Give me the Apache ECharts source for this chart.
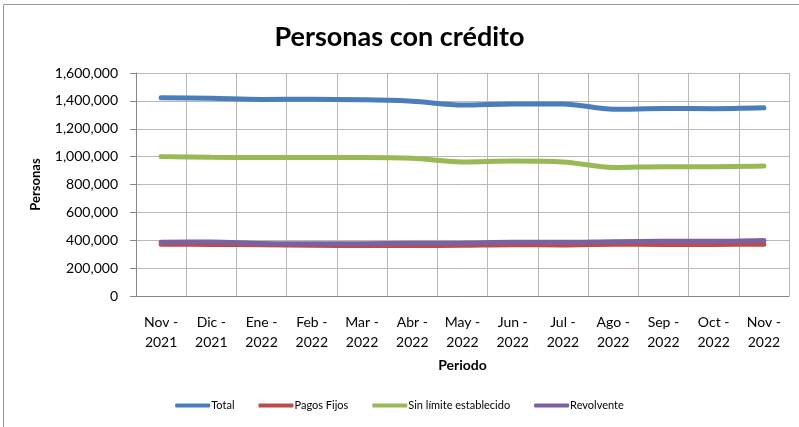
<!DOCTYPE html>
<html>
<head>
<meta charset="utf-8">
<script src="https://cdn.jsdelivr.net/npm/echarts@6/dist/echarts.min.js"></script>
<style>
  html, body { margin: 0; padding: 0; background: #fff; }
  #main { width: 799px; height: 427px; }
</style>
</head>
<body>
<div id="main"></div>
<script>
// datos
var periodos = ['Nov -\n2021', 'Dic -\n2021', 'Ene -\n2022', 'Feb -\n2022', 'Mar -\n2022', 'Abr -\n2022',
    'May -\n2022', 'Jun -\n2022', 'Jul -\n2022', 'Ago -\n2022', 'Sep -\n2022', 'Oct -\n2022', 'Nov -\n2022'];
var total = [1422000, 1418000, 1410000, 1412000, 1408000, 1398000, 1370000, 1378000, 1378000, 1340000, 1345000, 1344000, 1350000];
var pagosFijos = [372000, 370000, 368000, 364000, 362000, 362000, 364000, 368000, 366000, 372000, 370000, 370000, 372000];
var sinLimite = [1000000, 995000, 993000, 993000, 993000, 988000, 962000, 968000, 962000, 922000, 928000, 928000, 932000];
var revolvente = [385000, 388000, 376000, 374000, 375000, 378000, 380000, 386000, 386000, 390000, 392000, 392000, 398000];

var font = 'Lato, "Open Sans", sans-serif';
var myChart = echarts.init(document.getElementById('main'));

function serie(nombre, datos, color) {
    return {
        name: nombre,
        type: 'line',
        data: datos,
        smooth: 0.3,
        symbol: 'none',
        lineStyle: { width: 5, color: color, cap: 'round' },
        itemStyle: { color: color }
    };
}

var option = {
    animation: false,
    backgroundColor: '#fff',
    textStyle: { fontFamily: font },
    graphic: [{
        type: 'rect',
        shape: { x: 3.5, y: 4.5, width: 900, height: 900 },
        style: { fill: 'none', stroke: '#9a9a9a', lineWidth: 1 }
    }],
    title: {
        text: 'Personas con crédito',
        left: 'center',
        top: 19,
        textStyle: { fontFamily: font, fontSize: 27, fontWeight: 'bold', color: '#000' }
    },
    legend: {
        bottom: 11,
        left: 'center',
        icon: 'roundRect',
        itemWidth: 35,
        itemHeight: 4,
        itemGap: 24,
        textStyle: { fontFamily: font, fontSize: 11, color: '#000', padding: [0, 0, 0, -4] },
        data: ['Total', 'Pagos Fijos', 'Sin límite establecido', 'Revolvente']
    },
    grid: { left: 136, right: 10, top: 73, bottom: 131 },
    xAxis: {
        type: 'category',
        data: periodos,
        name: 'Periodo',
        nameLocation: 'middle',
        nameGap: 62,
        nameTextStyle: { fontFamily: font, fontSize: 14, fontWeight: 'bold', color: '#000' },
        axisLine: { lineStyle: { color: '#868686' } },
        axisTick: { show: false },
        axisLabel: { fontFamily: font, fontSize: 14, color: '#000', margin: 16, lineHeight: 20, interval: 0 },
        splitLine: { show: true, lineStyle: { color: '#b8b8b8' } }
    },
    yAxis: {
        type: 'value',
        min: 0,
        max: 1600000,
        interval: 200000,
        name: 'Personas',
        nameLocation: 'middle',
        nameGap: 94,
        nameTextStyle: { fontFamily: font, fontSize: 13, fontWeight: 'bold', color: '#000' },
        axisLine: { show: true, lineStyle: { color: '#868686' } },
        axisTick: { show: true, length: 6, lineStyle: { color: '#868686' } },
        axisLabel: {
            fontFamily: font, fontSize: 14, color: '#000', margin: 18,
            formatter: function (v) { return v.toLocaleString('en-US'); }
        },
        splitLine: { lineStyle: { color: '#b8b8b8' } }
    },
    series: [
        serie('Total', total, '#4a7ebb'),
        serie('Pagos Fijos', pagosFijos, '#be4b48'),
        serie('Sin límite establecido', sinLimite, '#98b954'),
        serie('Revolvente', revolvente, '#7d60a0')
    ]
};

myChart.setOption(option);
</script>
</body>
</html>
